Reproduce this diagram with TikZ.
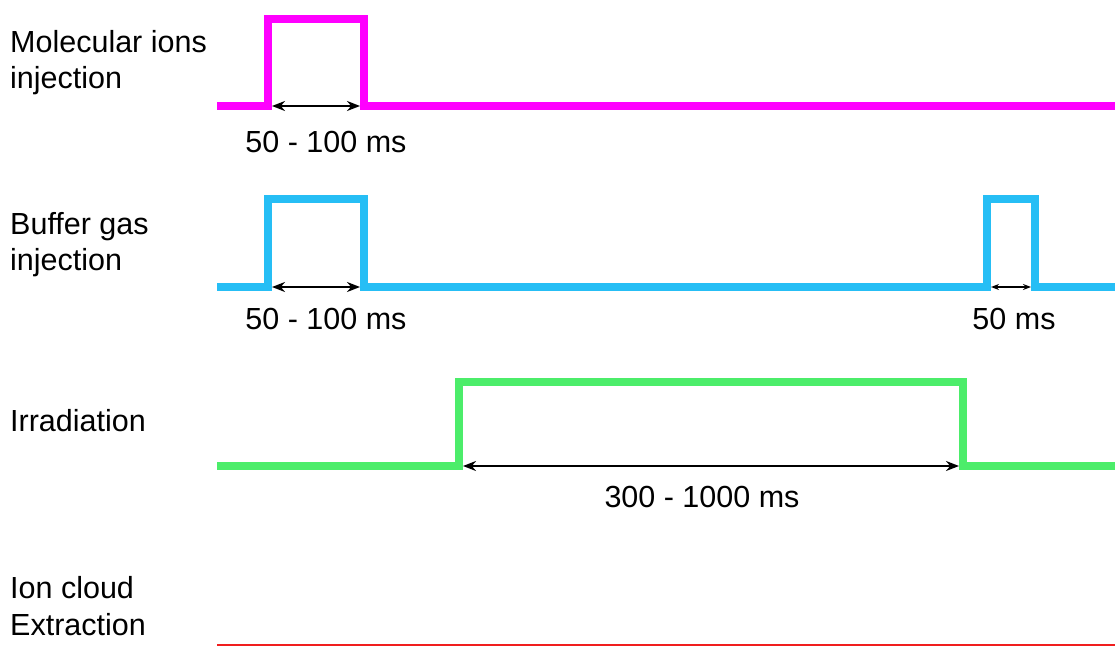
\documentclass[tikz,border=0pt]{standalone}
\usepackage{fontspec}
\setmainfont{Liberation Sans}
\usetikzlibrary{arrows.meta}
\definecolor{cmag}{RGB}{255,0,255}
\definecolor{cblue}{RGB}{38,190,245}
\definecolor{cgreen}{RGB}{76,237,106}
\definecolor{cred}{RGB}{240,30,30}
\begin{document}
\begin{tikzpicture}[x=1pt,y=-1pt,
  lbl/.style={anchor=base west,inner sep=0pt,font=\fontsize{30.5}{36}\selectfont,align=left},
  dur/.style={anchor=base,inner sep=0pt,font=\fontsize{30.5}{36}\selectfont},
  pulse/.style={line width=8pt,line join=miter},
  span/.style={line width=2.4pt,black,{Stealth[length=13pt,width=10pt]}-{Stealth[length=13pt,width=10pt]}},
  smallspan/.style={line width=1.5pt,black,{Stealth[length=8pt,width=6pt]}-{Stealth[length=8pt,width=6pt]}}]
\useasboundingbox (0,0) rectangle (1115,647);
% labels
\node[lbl] (l1a) at (10,53) {Molecular ions};
\node[lbl] (l1b) at (10,89) {injection};
\node[lbl] (l2a) at (10,234) {Buffer gas};
\node[lbl] (l2b) at (10,270) {injection};
\node[lbl] (l3) at (10,431) {Irradiation};
\node[lbl] (l4a) at (10,598) {Ion cloud};
\node[lbl] (l4b) at (10,635) {Extraction};
% signals
\draw[pulse,cmag] (217,106) -- (268,106) -- (268,19) -- (364,19) -- (364,106) -- (1115,106);
\draw[pulse,cblue] (217,287) -- (268,287) -- (268,199) -- (364,199) -- (364,287) -- (987,287) -- (987,199) -- (1035,199) -- (1035,287) -- (1115,287);
\draw[pulse,cgreen] (217,466) -- (459,466) -- (459,382) -- (963,382) -- (963,466) -- (1115,466);
\draw[line width=2pt,cred] (217,645) -- (1115,645);
% duration arrows
\coordinate (a1l) at (272,106); \coordinate (a1r) at (360,106);
\coordinate (a2l) at (272,287); \coordinate (a2r) at (360,287);
\coordinate (a3l) at (991,287); \coordinate (a3r) at (1031,287);
\coordinate (a4l) at (463,466); \coordinate (a4r) at (959,466);
\draw[span] (a1l) -- (a1r);
\draw[span] (a2l) -- (a2r);
\draw[smallspan] (a3l) -- (a3r);
\draw[span] (a4l) -- (a4r);
\node[dur] (d1) at (326,153) {50 - 100 ms};
\node[dur] (d2) at (326,329) {50 - 100 ms};
\node[dur] (d3) at (1014,329) {50 ms};
\node[dur] (d4) at (702,507) {300 - 1000 ms};
\end{tikzpicture}
\end{document}
